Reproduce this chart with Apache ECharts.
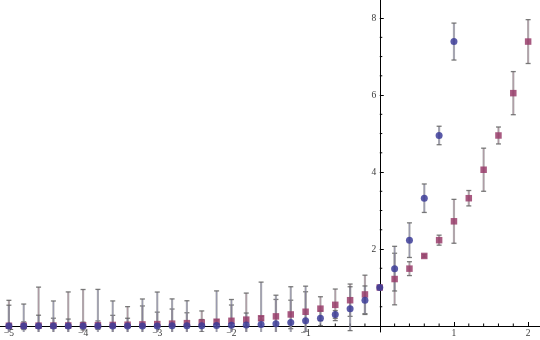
<!DOCTYPE html>
<html><head><meta charset="utf-8">
<script src="https://cdn.jsdelivr.net/npm/echarts@6/dist/echarts.min.js"></script>
<style>html,body{margin:0;padding:0;background:#fff}#c{width:540px;height:340px}</style>
</head><body><div id="c"></div>
<script>
const xBlue = [-5,-4.8,-4.6,-4.4,-4.2,-4,-3.8,-3.6,-3.4,-3.2,-3,-2.8,-2.6,-2.4,-2.2,-2,-1.8,-1.6,-1.4,-1.2,-1,-0.8,-0.6,-0.4,-0.2,0,0.2,0.4,0.6,0.8,1];
const yBlue = [0,0,0,0,0,0,0.001,0.001,0.001,0.002,0.002,0.004,0.006,0.008,0.012,0.018,0.027,0.04,0.06,0.09,0.135,0.2,0.3,0.45,0.67,1,1.49,2.23,3.32,4.95,7.39];
const errBlue = [0.54,0.57,0.28,0.65,0.18,0.1,0.95,0.65,0.2,0.7,0.88,0.7,0.65,0.16,0.9,0.67,0.31,1.1,0.74,0.93,0.9,0.19,0.1,0.57,0.37,0.02,0.58,0.45,0.37,0.24,0.48];

const xRed = [-5,-4.8,-4.6,-4.4,-4.2,-4,-3.8,-3.6,-3.4,-3.2,-3,-2.8,-2.6,-2.4,-2.2,-2,-1.8,-1.6,-1.4,-1.2,-1,-0.8,-0.6,-0.4,-0.2,0,0.2,0.4,0.6,0.8,1,1.2,1.4,1.6,1.8,2];
const yRed = [0.007,0.008,0.01,0.012,0.015,0.018,0.022,0.027,0.033,0.041,0.05,0.061,0.074,0.091,0.111,0.135,0.165,0.2,0.25,0.3,0.37,0.45,0.55,0.67,0.82,1,1.22,1.49,1.82,2.23,2.72,3.32,4.06,4.95,6.05,7.39];
const errRed = [0.66,0.1,1.0,0.19,0.87,0.93,0.11,0.25,0.47,0.48,0.31,0.38,0.27,0.3,0.05,0.41,0.69,0.05,0.44,0.37,0.52,0.31,0.41,0.42,0.5,0.02,0.67,0.18,0.03,0.13,0.57,0.2,0.56,0.22,0.56,0.57];

const xMajorTicks = [-5,-4,-3,-2,-1,1,2];
const xMinorTicks = [-4.8,-4.6,-4.4,-4.2,-3.8,-3.6,-3.4,-3.2,-2.8,-2.6,-2.4,-2.2,-1.8,-1.6,-1.4,-1.2,-0.8,-0.6,-0.4,-0.2,0.2,0.4,0.6,0.8,1.2,1.4,1.6,1.8];
const yMajorTicks = [2,4,6,8];
const yMinorTicks = [0.5,1,1.5,2.5,3,3.5,4.5,5,5.5,6.5,7,7.5];

const blueColor = '#3d3d99';
const redColor = '#993d6b';

function zip3(a,b,c){ return a.map((v,i)=>[v,b[i],c[i]]); }

function errRender(tint){
  return function(params, api){
    const x = api.value(0), y = api.value(1), e = api.value(2);
    const t = api.coord([x, y + e]);
    const b = api.coord([x, y - e]);
    const hw = 2.5;
    return {type:'group', children:[
      {type:'line', shape:{x1:t[0],y1:t[1],x2:b[0],y2:b[1]}, style:{stroke:'rgba(150,150,150,0.7)', lineWidth:2.2}},
      {type:'line', shape:{x1:t[0],y1:t[1],x2:b[0],y2:b[1]}, style:{stroke:tint, lineWidth:0.8, opacity:0.3}},
      {type:'line', shape:{x1:t[0]-hw,y1:t[1],x2:t[0]+hw,y2:t[1]}, style:{stroke:'rgba(100,100,100,0.85)', lineWidth:1.3}},
      {type:'line', shape:{x1:b[0]-hw,y1:b[1],x2:b[0]+hw,y2:b[1]}, style:{stroke:'rgba(100,100,100,0.85)', lineWidth:1.3}}
    ]};
  };
}

// minor ticks placed from axis values through the library's coordinate system
const minorTickData = xMinorTicks.map(v => [v, 0, 0]).concat(yMinorTicks.map(v => [0, v, 1]));
function minorTickRender(params, api){
  const p = api.coord([api.value(0), api.value(1)]);
  const isY = api.value(2) === 1;
  const L = 2.5;
  const shape = isY ? {x1:p[0], y1:p[1], x2:p[0]+L, y2:p[1]} : {x1:p[0], y1:p[1], x2:p[0], y2:p[1]-L};
  return {type:'line', shape:shape, style:{stroke:'#000', lineWidth:1}};
}

const fontFam = '"Liberation Serif", "DejaVu Serif", serif';
const fmt = v => String(v).replace('-', '\u2212');

const chart = echarts.init(document.getElementById('c'), null, {renderer:'canvas'});
chart.setOption({
  animation:false,
  backgroundColor:'#fff',
  grid:{left:0,right:0,top:0,bottom:8,containLabel:false,outerBoundsMode:'none'},
  xAxis:{type:'value', min:-5.12, max:2.16,
     axisLine:{onZero:true, lineStyle:{color:'#000', width:1}},
     axisTick:{inside:true, length:4, customValues:xMajorTicks, lineStyle:{color:'#000'}},
     axisLabel:{show:false},
     splitLine:{show:false}},
  yAxis:{type:'value', min:-0.156, max:8.47,
     axisLine:{onZero:true, lineStyle:{color:'#000', width:1}},
     axisTick:{inside:true, length:4, customValues:yMajorTicks, lineStyle:{color:'#000'}},
     axisLabel:{show:false},
     splitLine:{show:false}},
  series:[
    {type:'custom', name:'minorTicks', clip:false, z:0, silent:true, renderItem:minorTickRender, data:minorTickData, encode:{x:0,y:1}},
    {type:'scatter', name:'xTickLabels', clip:false, silent:true, z:5, symbol:'circle', symbolSize:1,
     itemStyle:{color:'rgba(0,0,0,0)'}, data:xMajorTicks.map(v => [v, 0]),
     label:{show:true, position:'bottom', distance:2, fontFamily:fontFam, fontSize:9.5, color:'#000',
            formatter:p => fmt(p.value[0])}},
    {type:'scatter', name:'yTickLabels', clip:false, silent:true, z:5, symbol:'circle', symbolSize:1,
     itemStyle:{color:'rgba(0,0,0,0)'}, data:yMajorTicks.map(v => [0, v]),
     label:{show:true, position:'left', distance:3, fontFamily:fontFam, fontSize:9.5, color:'#000',
            formatter:p => fmt(p.value[1])}},
    {type:'custom', name:'errRed', clip:true, z:1, renderItem:errRender(redColor), data:zip3(xRed,yRed,errRed), encode:{x:0,y:1}},
    {type:'custom', name:'errBlue', clip:true, z:1, renderItem:errRender(blueColor), data:zip3(xBlue,yBlue,errBlue), encode:{x:0,y:1}},
    {type:'scatter', name:'red', z:3, symbol:'rect', symbolSize:6.5, itemStyle:{color:redColor, opacity:0.85}, data:xRed.map((v,i)=>[v,yRed[i]])},
    {type:'scatter', name:'blue', z:4, symbol:'circle', symbolSize:7, itemStyle:{color:blueColor, opacity:0.85}, data:xBlue.map((v,i)=>[v,yBlue[i]])}
  ]
});
</script></body></html>
